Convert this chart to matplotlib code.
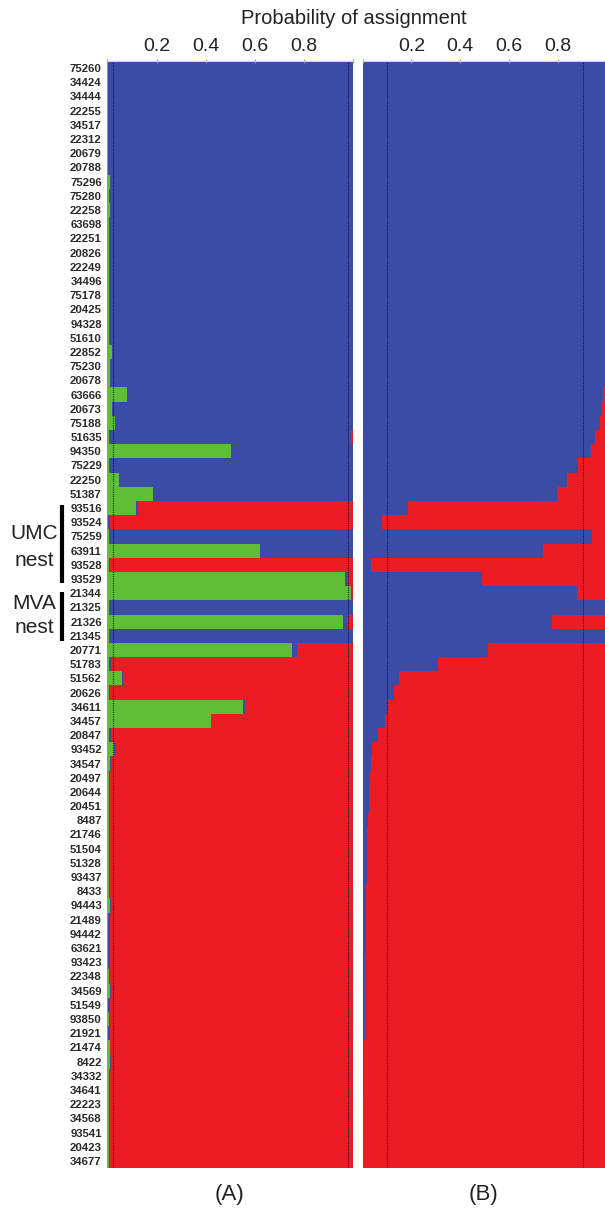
import numpy as np
import matplotlib.pyplot as plt
import matplotlib.transforms as mtransforms

plt.rcParams['font.family'] = ['Liberation Sans', 'DejaVu Sans']

# individuals, top to bottom
ids = ['75260', '34424', '34444', '22255', '34517', '22312', '20679', '20788',
       '75296', '75280', '22258', '63698', '22251', '20826', '22249', '34496',
       '75178', '20425', '94328', '51610', '22852', '75230', '20678', '63666',
       '20673', '75188', '51635', '94350', '75229', '22250', '51387', '93516',
       '93524', '75259', '63911', '93528', '93529', '21344', '21325', '21326',
       '21345', '20771', '51783', '51562', '20626', '34611', '34457', '20847',
       '93452', '34547', '20497', '20644', '20451', '8487', '21746', '51504',
       '51328', '93437', '8433', '94443', '21489', '94442', '63621', '93423',
       '22348', '34569', '51549', '93850', '21921', '21474', '8422', '34332',
       '34641', '22223', '34568', '93541', '20423', '34677']

# panel A: three clusters (green, blue, red)
a_green = [0.004, 0.004, 0.004, 0.004, 0.004, 0.004, 0.004, 0.004,
           0.012, 0.006, 0.012, 0.008, 0.008, 0.008, 0.008, 0.008,
           0.008, 0.008, 0.008, 0.008, 0.02, 0.01, 0.01, 0.079,
           0.02, 0.03, 0.005, 0.503, 0.005, 0.048, 0.185, 0.117,
           0.004, 0.005, 0.622, 0.005, 0.966, 0.992, 0.005, 0.958,
           0.005, 0.75, 0.005, 0.058, 0.005, 0.553, 0.42, 0.005,
           0.028, 0.01, 0.008, 0.008, 0.008, 0.008, 0.008, 0.008,
           0.008, 0.008, 0.008, 0.01, 0.003, 0.003, 0.004, 0.004,
           0.005, 0.012, 0.004, 0.006, 0.004, 0.01, 0.012, 0.006,
           0.006, 0.006, 0.006, 0.006, 0.006, 0.006]
a_blue = [0.996, 0.996, 0.996, 0.996, 0.996, 0.996, 0.996, 0.996,
          0.988, 0.994, 0.988, 0.992, 0.992, 0.992, 0.992, 0.992,
          0.992, 0.992, 0.992, 0.992, 0.98, 0.99, 0.99, 0.921,
          0.98, 0.97, 0.985, 0.497, 0.995, 0.952, 0.815, 0.009,
          0.006, 0.995, 0.378, 0.006, 0.01, 0.004, 0.995, 0.018,
          0.995, 0.02, 0.008, 0.006, 0.006, 0.007, 0.002, 0.008,
          0.006, 0.003, 0.003, 0.003, 0.003, 0.003, 0.003, 0.003,
          0.003, 0.003, 0.003, 0.003, 0.008, 0.008, 0.007, 0.007,
          0.006, 0.002, 0.007, 0.004, 0.007, 0.002, 0.002, 0.003,
          0.003, 0.003, 0.003, 0.003, 0.003, 0.003]
a_red = [0, 0, 0, 0, 0, 0, 0, 0,
         0, 0, 0, 0, 0, 0, 0, 0,
         0, 0, 0, 0, 0, 0, 0, 0,
         0, 0, 0.01, 0, 0, 0, 0, 0.874,
         0.99, 0, 0, 0.989, 0.024, 0.004, 0, 0.024,
         0, 0.23, 0.987, 0.936, 0.989, 0.44, 0.578, 0.987,
         0.966, 0.987, 0.989, 0.989, 0.989, 0.989, 0.989, 0.989,
         0.989, 0.989, 0.989, 0.987, 0.989, 0.989, 0.989, 0.989,
         0.989, 0.986, 0.989, 0.99, 0.989, 0.988, 0.986, 0.991,
         0.991, 0.991, 0.991, 0.991, 0.991, 0.991]

# panel B: two clusters (blue, red)
b_blue = [1.0, 1.0, 1.0, 1.0, 1.0, 1.0, 1.0, 1.0,
          1.0, 1.0, 1.0, 1.0, 1.0, 1.0, 1.0, 1.0,
          1.0, 1.0, 1.0, 1.0, 1.0, 1.0, 0.99, 0.985,
          0.98, 0.972, 0.952, 0.935, 0.88, 0.835, 0.797, 0.186,
          0.078, 0.94, 0.74, 0.033, 0.487, 0.878, 1.0, 0.774,
          1.0, 0.515, 0.31, 0.151, 0.129, 0.106, 0.092, 0.062,
          0.04, 0.034, 0.03, 0.027, 0.025, 0.022, 0.02, 0.019,
          0.018, 0.017, 0.016, 0.015, 0.014, 0.013, 0.013, 0.012,
          0.011, 0.011, 0.01, 0.01, 0.009, 0.007, 0.006, 0.005,
          0.005, 0.004, 0.004, 0.003, 0.003, 0.002]
b_red = [0, 0, 0, 0, 0, 0, 0, 0,
         0, 0, 0, 0, 0, 0, 0, 0,
         0, 0, 0, 0, 0, 0, 0.01, 0.015,
         0.02, 0.028, 0.048, 0.065, 0.12, 0.165, 0.203, 0.814,
         0.922, 0.06, 0.26, 0.967, 0.513, 0.122, 0, 0.226,
         0, 0.485, 0.69, 0.849, 0.871, 0.894, 0.908, 0.938,
         0.96, 0.966, 0.97, 0.973, 0.975, 0.978, 0.98, 0.981,
         0.982, 0.983, 0.984, 0.985, 0.986, 0.987, 0.987, 0.988,
         0.989, 0.989, 0.99, 0.99, 0.991, 0.993, 0.994, 0.995,
         0.995, 0.996, 0.996, 0.997, 0.997, 0.998]

a_lines = [0.025, 0.98]
b_lines = [0.1, 0.9]

GREEN = '#5fbd36'
BLUE = '#3b4ca6'
RED = '#ec1c24'

fig = plt.figure(figsize=(6.05, 12.08), dpi=100)
axA = fig.add_axes([0.1774, 0.0331, 0.4066, 0.9164])
axB = fig.add_axes([0.5992, 0.0331, 0.4041, 0.9164])

y = np.arange(len(ids))

def bar(ax, vals, left, color):
    ax.barh(y, vals, left=left, height=1.0, color=color,
            linewidth=0, antialiased=False)

left = np.zeros(len(ids))
for vals, c in [(a_green, GREEN), (a_blue, BLUE), (a_red, RED)]:
    bar(axA, vals, left, c)
    left = left + np.array(vals)

left = np.zeros(len(ids))
for vals, c in [(b_blue, BLUE), (b_red, RED)]:
    bar(axB, vals, left, c)
    left = left + np.array(vals)

for ax, lines in [(axA, a_lines), (axB, b_lines)]:
    for v in lines:
        ax.axvline(v, color='#15153a', ls=(0, (1, 1)), lw=0.8)
    ax.set_xlim(0, 1)
    ax.set_ylim(len(ids) - 0.5, -0.5)
    ax.xaxis.tick_top()
    ax.set_xticks([0, 0.2, 0.4, 0.6, 0.8, 1.0])
    ax.set_xticklabels(['', '0.2', '0.4', '0.6', '0.8', ''])
    ax.tick_params(axis='x', length=3, direction='inout', color='#999999',
                   labelsize=14, pad=3, labelcolor='#222222')
    for s in ['left', 'right', 'bottom']:
        ax.spines[s].set_visible(False)
    ax.spines['top'].set_color('#d8ccb4')
    ax.spines['top'].set_linewidth(0.8)

axA.set_yticks(y)
axA.set_yticklabels(ids, fontsize=8.2, color='#2a2a2a', fontweight='bold')
axA.tick_params(axis='y', length=0, pad=4)
axB.set_yticks([])

# nest brackets
tr = mtransforms.blended_transform_factory(axA.transAxes, axA.transData)
axA.plot([-0.184, -0.184], [30.8, 36.3], color='black', lw=3,
         transform=tr, clip_on=False, solid_capstyle='butt')
axA.plot([-0.184, -0.184], [36.9, 40.4], color='black', lw=3,
         transform=tr, clip_on=False, solid_capstyle='butt')
for txt, yy in [('UMC', 32.8), ('nest', 34.7), ('MVA', 37.7), ('nest', 39.4)]:
    axA.text(-0.298, yy, txt, transform=tr, fontsize=15, ha='center',
             va='center', color='#222222')

fig.text(0.584, 0.985, 'Probability of assignment', fontsize=14.5,
         ha='center', va='center', color='#222222')
fig.text(0.380, 0.0108, '(A)', fontsize=16, ha='center', va='center',
         color='#222222')
fig.text(0.800, 0.0108, '(B)', fontsize=16, ha='center', va='center',
         color='#222222')

fig.savefig('out.png', dpi=100)
